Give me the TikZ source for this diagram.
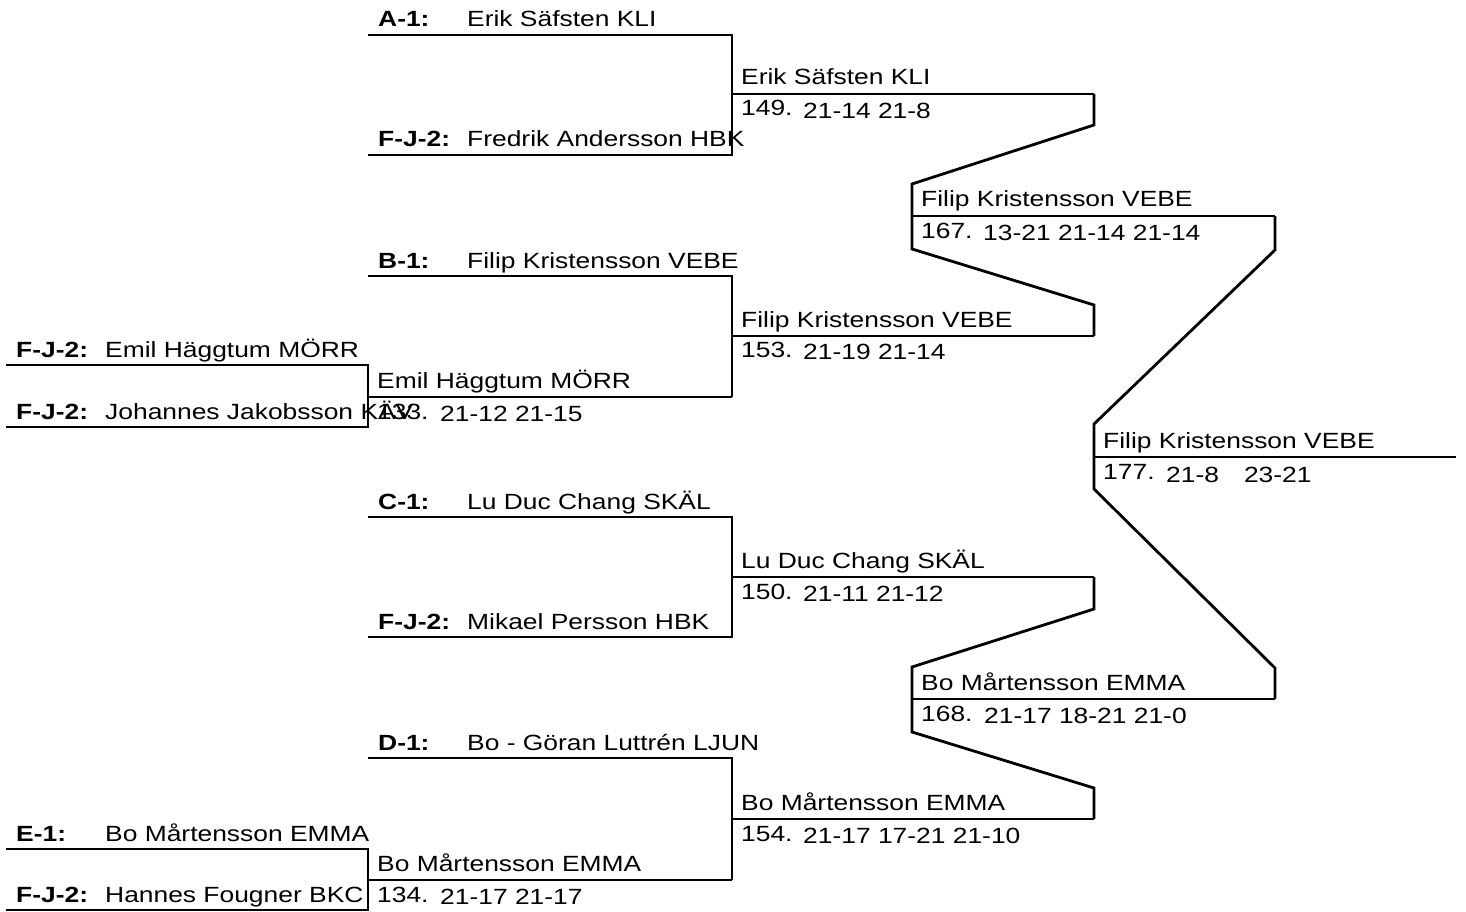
\documentclass[tikz,border=0pt]{standalone}
\usepackage{fontspec}
\setmainfont{Liberation Sans}[FakeStretch=1.2]
\begin{document}
\begin{tikzpicture}[x=1pt,y=-1pt,
  every node/.style={inner sep=0pt,anchor=base west,font=\fontsize{22}{26}\selectfont},
  code/.style={font=\fontsize{22}{26}\selectfont\bfseries},
  br/.style={line width=2.8pt,line join=miter}]
\useasboundingbox (0,0) rectangle (1466,912);

% ---------- round 0 (left) ----------
\coordinate (l1a) at (6,365);   \coordinate (l1b) at (368,365);
\coordinate (l1c) at (368,427); \coordinate (l1d) at (6,427);
\draw[br] (l1a) -- (l1b) -- (l1c) -- (l1d);
\node[code] (c01) at (16,357) {F-J-2:}; \node (n01) at (105,357) {Emil Häggtum MÖRR};
\node[code] (c02) at (16,419) {F-J-2:}; \node (n02) at (105,419) {Johannes Jakobsson KÄV};

\coordinate (l2a) at (6,849);   \coordinate (l2b) at (368,849);
\coordinate (l2c) at (368,910); \coordinate (l2d) at (6,910);
\draw[br] (l2a) -- (l2b) -- (l2c) -- (l2d);
\node[code] (c03) at (16,841) {E-1:}; \node (n03) at (105,841) {Bo Mårtensson EMMA};
\node[code] (c04) at (16,902) {F-J-2:}; \node (n04) at (105,902) {Hannes Fougner BKC};

% match 133
\coordinate (m133a) at (368,397); \coordinate (m133b) at (732,397);
\draw[br] (m133a) -- (m133b);
\node (w133) at (377,388) {Emil Häggtum MÖRR};
\node (k133) at (377,419) {133.}; \node (s133) at (440,421) {21-12 21-15};

% match 134
\coordinate (m134a) at (368,880); \coordinate (m134b) at (732,880);
\draw[br] (m134a) -- (m134b);
\node (w134) at (377,871) {Bo Mårtensson EMMA};
\node (k134) at (377,902) {134.}; \node (s134) at (440,904) {21-17 21-17};

% ---------- round 1 ----------
\coordinate (a1) at (368,35);  \coordinate (a2) at (732,35);
\coordinate (a3) at (732,155); \coordinate (a4) at (368,155);
\draw[br] (a1) -- (a2) -- (a3) -- (a4);
\node[code] (cA) at (378,27) {A-1:};   \node (nA) at (467,27) {Erik Säfsten KLI};
\node[code] (cA2) at (378,147) {F-J-2:}; \node (nA2) at (467,147) {Fredrik Andersson HBK};

\coordinate (b1) at (368,276); \coordinate (b2) at (732,276);
\draw[br] (b1) -- (b2) -- (m133b);
\node[code] (cB) at (378,268) {B-1:}; \node (nB) at (467,268) {Filip Kristensson VEBE};

\coordinate (c1) at (368,517); \coordinate (c2) at (732,517);
\coordinate (c3) at (732,637); \coordinate (c4) at (368,637);
\draw[br] (c1) -- (c2) -- (c3) -- (c4);
\node[code] (cC) at (378,509) {C-1:};   \node (nC) at (467,509) {Lu Duc Chang SKÄL};
\node[code] (cC2) at (378,629) {F-J-2:}; \node (nC2) at (467,629) {Mikael Persson HBK};

\coordinate (d1) at (368,758); \coordinate (d2) at (732,758);
\draw[br] (d1) -- (d2) -- (m134b);
\node[code] (cD) at (378,750) {D-1:}; \node (nD) at (467,750) {Bo - Göran Luttrén LJUN};

% ---------- round 2 ----------
\coordinate (m149a) at (732,94);  \coordinate (m149b) at (1094,94);
\coordinate (m153a) at (732,336); \coordinate (m153b) at (1094,336);
\coordinate (m150a) at (732,577); \coordinate (m150b) at (1094,577);
\coordinate (m154a) at (732,819); \coordinate (m154b) at (1094,819);
\draw[br] (m149a) -- (m149b);
\draw[br] (m153a) -- (m153b);
\draw[br] (m150a) -- (m150b);
\draw[br] (m154a) -- (m154b);
\node (w149) at (741,85) {Erik Säfsten KLI};
\node (k149) at (741,116) {149.}; \node (s149) at (803,119) {21-14 21-8};
\node (w153) at (741,327) {Filip Kristensson VEBE};
\node (k153) at (741,357) {153.}; \node (s153) at (803,359) {21-19 21-14};
\node (w150) at (741,568) {Lu Duc Chang SKÄL};
\node (k150) at (741,599) {150.}; \node (s150) at (803,601) {21-11 21-12};
\node (w154) at (741,810) {Bo Mårtensson EMMA};
\node (k154) at (741,841) {154.}; \node (s154) at (803,843) {21-17 17-21 21-10};

% ---------- round 3 ----------
\coordinate (m167a) at (912,216); \coordinate (m167b) at (1275,216);
\coordinate (m168a) at (912,699); \coordinate (m168b) at (1275,699);
\draw[br] (m149b) -- (1094,125) -- (912,184) -- (912,249) -- (1094,305) -- (m153b);
\draw[br] (m150b) -- (1094,609) -- (912,667) -- (912,732) -- (1094,788) -- (m154b);
\draw[br] (m167a) -- (m167b);
\draw[br] (m168a) -- (m168b);
\node (w167) at (921,207) {Filip Kristensson VEBE};
\node (k167) at (921,238) {167.}; \node (s167) at (983,240) {13-21 21-14 21-14};
\node (w168) at (921,690) {Bo Mårtensson EMMA};
\node (k168) at (921,721) {168.}; \node (s168) at (984,723) {21-17 18-21 21-0};

% ---------- final ----------
\coordinate (m177a) at (1094,457); \coordinate (m177b) at (1456,457);
\draw[br] (m167b) -- (1275,250) -- (1094,424) -- (1094,489) -- (1275,668) -- (m168b);
\draw[br] (m177a) -- (m177b);
\node (w177) at (1103,448) {Filip Kristensson VEBE};
\node (k177) at (1103,479) {177.}; \node (s177) at (1166,482) {21-8\hspace{25pt}23-21};
\end{tikzpicture}
\end{document}
